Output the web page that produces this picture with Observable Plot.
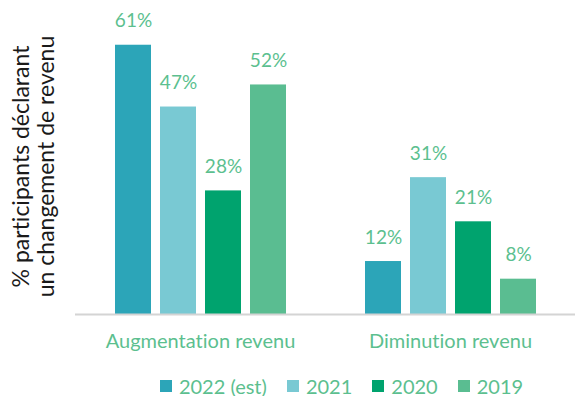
<!DOCTYPE html>
<html>
<head>
<meta charset="utf-8">
<script src="https://cdn.jsdelivr.net/npm/d3@7"></script>
<script src="https://cdn.jsdelivr.net/npm/@observablehq/plot@0.6"></script>
<style>
  body { margin: 0; background: #fff; font-family: Lato, "Open Sans", sans-serif; }
  #chart { width: 575px; }
  #chart svg text { font-variant-ligatures: none; }
  .legend { display: flex; justify-content: center; gap: 20px; margin-left: 108px; margin-top: 16px;
            font-family: Lato, sans-serif; font-size: 20px; color: #5cbf8f; font-variant-ligatures: none; line-height: 1; }
  .legend span { display: inline-flex; align-items: center; }
  .legend i { display: inline-block; width: 12px; height: 12px; margin-right: 7px; }
</style>
</head>
<body>
<div id="chart"></div>
<script>
const groups = ["Augmentation revenu", "Diminution revenu"];
const years = ["2022 (est)", "2021", "2020", "2019"];
const augmentation = [61, 47, 28, 52];
const diminution = [12, 31, 21, 8];
const colors = ["#2ca5b8", "#79c9d3", "#00a36e", "#5abd91"];
const yLabel = "% participants déclarant\nun changement de revenu";

const seriesByGroup = [augmentation, diminution];
const table = [];
groups.forEach((g, gi) => years.forEach((y, yi) => table.push({group: g, year: y, value: seriesByGroup[gi][yi]})));

const green = "#5cbf8f";
const plot = Plot.plot({
  width: 575,
  height: 360,
  marginLeft: 74,
  marginRight: 0,
  marginTop: 5,
  marginBottom: 46,
  style: {fontFamily: "Lato, sans-serif", fontSize: "20px", color: green, background: "#fff"},
  fx: {domain: groups, padding: 0, label: null, tickSize: 0, tickPadding: 19, axis: "bottom"},
  x: {domain: years, paddingInner: 0.21, paddingOuter: 0.85, axis: null},
  y: {domain: [0, 70], axis: null},
  color: {domain: years, range: colors},
  facet: {data: table, x: "group"},
  marks: [
    Plot.barY(table, {x: "year", y: "value", fill: "year"}),
    Plot.ruleY([0], {stroke: "#d4d4d4", strokeWidth: 2}),
    Plot.text(table, {x: "year", y: "value", text: d => d.value + "%", dy: -24, fill: green, fontSize: 19})
  ]
});
document.getElementById("chart").appendChild(plot);

// y-axis title in the left margin, positioned with the plot's y scale
const yScale = plot.scale("y");
const midY = (yScale.range[0] + yScale.range[1]) / 2 + 7;
const lines = yLabel.split("\n");
const svg = d3.select(plot);
const t = svg.append("text")
  .attr("transform", `translate(33,${midY}) rotate(-90)`)
  .attr("text-anchor", "middle")
  .attr("fill", "#1a1a1a")
  .style("font-size", "23px")
  .style("font-family", "Lato, sans-serif");
lines.forEach((l, i) => t.append("tspan").attr("x", 0).attr("y", (i - (lines.length - 1) / 2) * 25).attr("dy", "0.35em").text(l));

const leg = document.createElement("div");
leg.className = "legend";
years.forEach((y, i) => {
  const s = document.createElement("span");
  s.innerHTML = `<i style="background:${colors[i]}"></i>${y}`;
  leg.appendChild(s);
});
document.getElementById("chart").appendChild(leg);
</script>
</body>
</html>
